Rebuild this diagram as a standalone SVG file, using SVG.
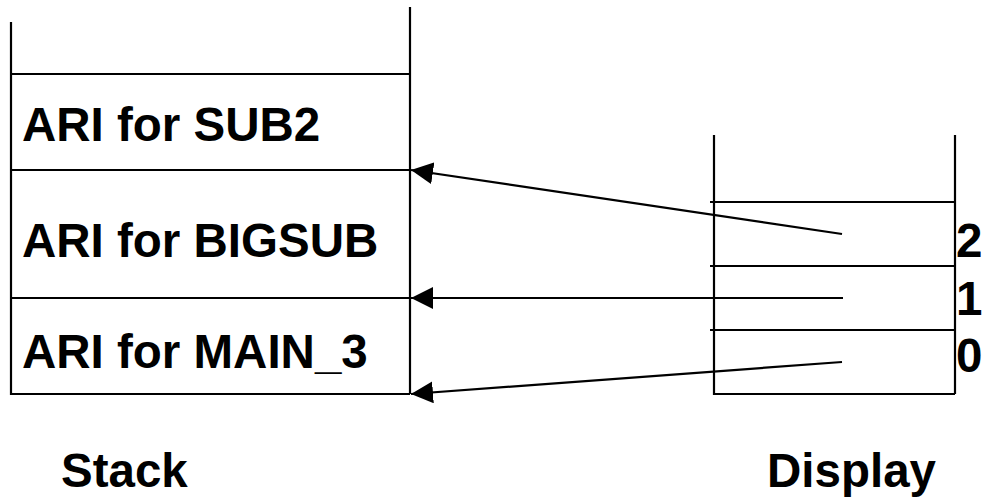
<svg xmlns="http://www.w3.org/2000/svg" width="984" height="498" viewBox="0 0 984 498">
<style>
.ln{stroke:#000;stroke-width:2.2;fill:none}
.t{font-family:"Liberation Sans",Arial,sans-serif;font-weight:bold;font-size:47.5px;fill:#000}
.arr{stroke:#000;stroke-width:2.2;fill:none;marker-end:url(#ah)}
</style>
<defs>
<marker id="ah" markerUnits="userSpaceOnUse" markerWidth="23" markerHeight="23" viewBox="0 0 23 23" refX="22" refY="11" orient="auto">
<path d="M0,0 L22,11 L0,22 z" fill="#000"/>
</marker>
</defs>
<rect width="984" height="498" fill="#fff"/>
<g id="stack">
<path class="ln" d="M11,22 V394 H410 M410,7 V394 M11,74 H410 M11,170 H410 M11,298 H410"/>
</g>
<g id="ari_sub2"><text class="t" x="22" y="141">ARI for SUB2</text></g>
<g id="ari_bigsub"><text class="t" x="22" y="257">ARI for BIGSUB</text></g>
<g id="ari_main3"><text class="t" x="22" y="368">ARI for MAIN_3</text></g>
<g id="display">
<path class="ln" d="M714,135 V394 H955 M955,135 V394 M710,202 H955 M710,266 H955 M710,330 H955"/>
<text class="t" x="956" y="257">2</text>
<text class="t" x="956" y="315">1</text>
<text class="t" x="956" y="372">0</text>
</g>
<g id="connectors">
<line class="arr" x1="842" y1="234" x2="411" y2="170"/>
<line class="arr" x1="843" y1="298" x2="411" y2="298"/>
<line class="arr" x1="842" y1="362" x2="411" y2="394"/>
</g>
<g id="labels">
<text class="t" x="61" y="487">Stack</text>
<text class="t" x="767" y="487">Display</text>
</g>
</svg>
